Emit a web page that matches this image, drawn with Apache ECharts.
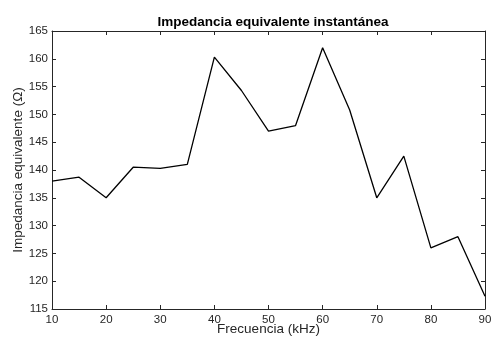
<!DOCTYPE html>
<html><head><meta charset="utf-8">
<script src="https://cdn.jsdelivr.net/npm/echarts@6/dist/echarts.min.js"></script>
<style>html,body{margin:0;padding:0;background:#fff}#c{width:491px;height:340px}</style>
</head><body><div id="c"></div>
<script>
const freq = [10,15,20,25,30,35,40,45,50,55,60,65,70,75,80,85,90];
const impedance = [138.0,138.7,135.0,140.5,140.3,141.0,160.3,154.3,147.0,148.0,162.0,150.8,135.0,142.5,126.0,128.0,117.3];
const titleText = 'Impedancia equivalente instantánea';
const xName = 'Frecuencia (kHz)';
const yName = 'Impedancia equivalente (Ω)';

const chart = echarts.init(document.getElementById('c'), null, {renderer:'canvas'});
const font = 'Liberation Sans';
const line = {show:true, lineStyle:{color:'#262626', width:1}};
const tick = {show:true, inside:true, length:4, lineStyle:{color:'#262626', width:1}};
chart.setOption({
  animation:false,
  backgroundColor:'#fff',
  title:{text:titleText, left:268, top:10, textAlign:'center',
    textStyle:{fontFamily:font, fontSize:13.5, fontWeight:'bold', color:'#000'}},
  grid:{left:52, right:6, top:31, bottom:31, containLabel:false, outerBoundsMode:'none'},
  xAxis:[
    {type:'value', min:10, max:90, interval:10, position:'bottom',
     axisLine:line, axisTick:tick, splitLine:{show:false},
     axisLabel:{fontFamily:font, fontSize:11.5, color:'#262626', margin:5},
     name:xName, nameLocation:'middle', nameGap:13, nameMoveOverlap:false,
     nameTextStyle:{fontFamily:font, fontSize:13.5, color:'#262626'}},
    {type:'value', min:10, max:90, interval:10, position:'top',
     axisLine:line, axisTick:tick, splitLine:{show:false}, axisLabel:{show:false}}
  ],
  yAxis:[
    {type:'value', min:115, max:165, interval:5, position:'left',
     axisLine:line, axisTick:tick, splitLine:{show:false},
     axisLabel:{fontFamily:font, fontSize:11.5, color:'#262626', margin:4},
     name:yName, nameLocation:'middle', nameGap:27, nameMoveOverlap:false,
     nameTextStyle:{fontFamily:font, fontSize:13.5, color:'#262626'}},
    {type:'value', min:115, max:165, interval:5, position:'right',
     axisLine:line, axisTick:tick, splitLine:{show:false}, axisLabel:{show:false}}
  ],
  series:[{type:'line', data:freq.map((f,i)=>[f, impedance[i]]),
    xAxisIndex:0, yAxisIndex:0, showSymbol:false, symbol:'none',
    lineStyle:{color:'#000', width:1.3}}]
});
</script></body></html>
